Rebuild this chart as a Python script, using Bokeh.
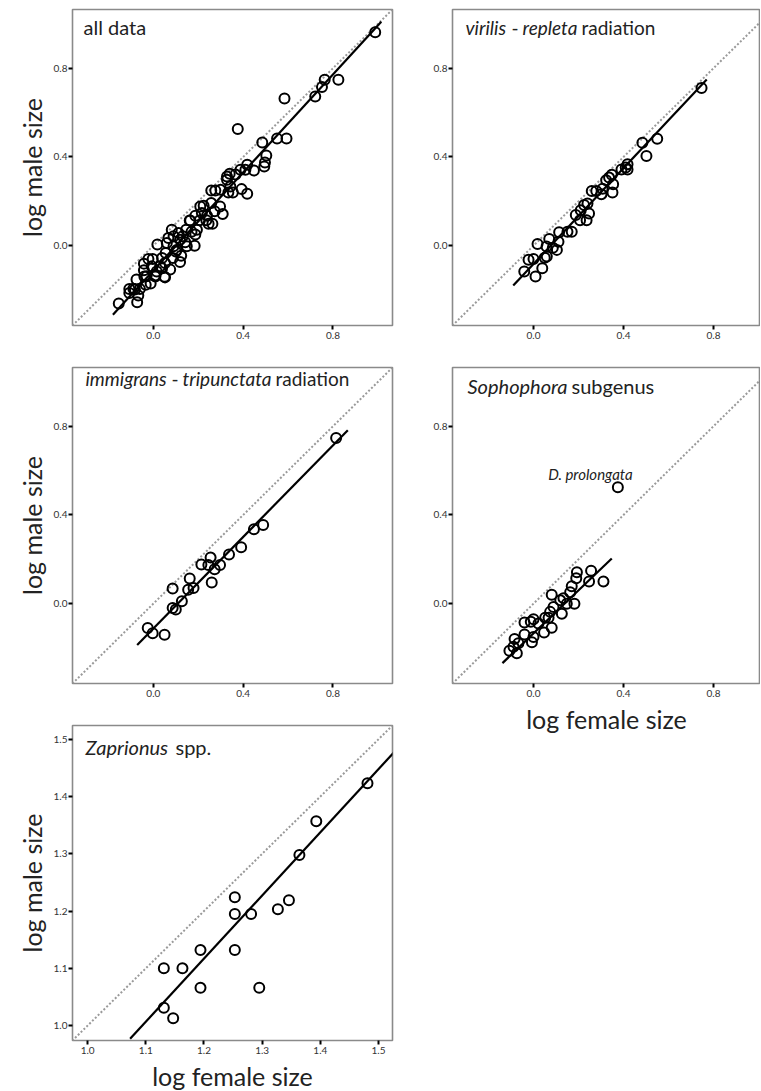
from bokeh.plotting import figure
from bokeh.layouts import row, column
from bokeh.models import Range1d, FixedTicker, NumeralTickFormatter, Label
from bokeh.embed import file_html
from bokeh.resources import INLINE

FONT = "Lato"

# ---------------- data ----------------
all_x = [-0.154, -0.107, -0.107, -0.082, -0.075, -0.072, -0.067, -0.060, -0.042, -0.042,
         -0.034, -0.030, -0.022, -0.012, -0.007, -0.003, 0.007, 0.015, 0.018, 0.030,
         0.039, 0.052, 0.052, 0.055, 0.060, 0.067, 0.075, 0.082, 0.087, 0.090,
         0.090, 0.112, 0.119, 0.119, 0.124, 0.131, 0.142, 0.146, 0.149, 0.164,
         0.184, 0.187, 0.187, 0.194, 0.209, 0.216, 0.224, 0.239, 0.246, 0.258,
         0.258, 0.263, 0.276, 0.297, 0.299, 0.309, 0.328, 0.328, 0.334, 0.340,
         0.343, 0.354, 0.366, 0.376, 0.388, 0.393, 0.410, 0.418, 0.418, 0.448,
         0.485, 0.494, 0.497, 0.503, 0.551, 0.584, 0.593, 0.721, 0.751, 0.763,
         0.824, 0.988, 0.207, 0.236, 0.170, 0.104, 0.039, 0.009, 0.100, 0.050,
         -0.089, -0.040, 0.162, 0.273]
all_y = [-0.261, -0.195, -0.213, -0.198, -0.153, -0.255, -0.225, -0.195, -0.081, -0.111,
         -0.176, -0.138, -0.060, -0.171, -0.093, -0.060, -0.135, -0.116, 0.005, -0.093,
         -0.056, -0.078, -0.143, -0.033, 0.012, 0.035, -0.108, 0.072, -0.056, 0.042,
         -0.003, 0.057, 0.027, -0.074, -0.045, 0.042, 0.015, 0.072, -0.003, 0.113,
         0.000, 0.050, 0.135, 0.072, 0.177, 0.147, 0.180, 0.135, 0.099, 0.192,
         0.249, 0.099, 0.249, 0.177, 0.252, 0.143, 0.297, 0.312, 0.240, 0.324,
         0.267, 0.240, 0.321, 0.526, 0.342, 0.255, 0.342, 0.365, 0.234, 0.339,
         0.465, 0.357, 0.375, 0.407, 0.483, 0.664, 0.483, 0.673, 0.715, 0.748,
         0.748, 0.962, 0.115, 0.115, 0.063, -0.019, -0.102, -0.139, -0.026, -0.140,
         -0.194, -0.139, 0.113, 0.155]
all_fit_x = [-0.180, 1.015]
all_fit_y = [-0.311, 1.010]

vir_x = [0.747, 0.550, 0.484, 0.502, 0.418, 0.410, 0.391, 0.418, 0.348, 0.336,
         0.323, 0.354, 0.351, 0.302, 0.307, 0.259, 0.279, 0.225, 0.240, 0.210,
         0.247, 0.236, 0.207, 0.188, 0.170, 0.151, 0.114, 0.111, 0.104, 0.070,
         0.058, 0.086, 0.050, 0.059, 0.039, 0.018, 0.000, -0.022, 0.009, -0.041]
vir_y = [0.711, 0.482, 0.464, 0.404, 0.367, 0.352, 0.343, 0.343, 0.320, 0.307,
         0.295, 0.277, 0.240, 0.232, 0.257, 0.247, 0.247, 0.183, 0.190, 0.160,
         0.145, 0.115, 0.115, 0.138, 0.063, 0.063, 0.060, 0.018, -0.019, 0.030,
         -0.004, -0.009, -0.054, -0.049, -0.102, 0.007, -0.060, -0.064, -0.139, -0.117]
vir_fit_x = [-0.090, 0.770]
vir_fit_y = [-0.180, 0.749]

imm_x = [0.814, 0.489, 0.448, 0.391, 0.337, 0.297, 0.273, 0.255, 0.245, 0.260,
         0.214, 0.179, 0.162, 0.155, 0.127, 0.100, 0.086, 0.086, 0.050, -0.003, -0.025]
imm_y = [0.747, 0.355, 0.336, 0.254, 0.222, 0.174, 0.155, 0.208, 0.174, 0.095,
         0.177, 0.071, 0.113, 0.063, 0.011, -0.026, -0.020, 0.068, -0.140, -0.133, -0.110]
imm_fit_x = [-0.072, 0.866]
imm_fit_y = [-0.186, 0.782]

soph_x = [0.375, 0.311, 0.256, 0.247, 0.193, 0.190, 0.182, 0.170, 0.163, 0.148,
          0.126, 0.133, 0.119, 0.089, 0.081, 0.074, 0.081, 0.067, 0.052, 0.047,
          0.022, 0.000, -0.012, -0.007, 0.000, -0.040, -0.040, -0.067, -0.084, -0.089,
          -0.107, -0.074]
soph_y = [0.525, 0.100, 0.149, 0.100, 0.142, 0.115, 0.000, 0.079, 0.052, 0.000,
          -0.045, 0.025, 0.015, -0.015, 0.040, -0.037, -0.109, -0.064, -0.064, -0.130,
          -0.089, -0.070, -0.082, -0.174, -0.150, -0.085, -0.139, -0.179, -0.159, -0.194,
          -0.212, -0.224]
soph_fit_x = [-0.138, 0.348]
soph_fit_y = [-0.268, 0.204]
outlier_name = "D. prolongata"
outlier_label_xy = (0.253, 0.585)

zap_x = [1.481, 1.393, 1.364, 1.346, 1.327, 1.295, 1.281, 1.253, 1.253, 1.253,
         1.194, 1.194, 1.163, 1.131, 1.131, 1.147]
zap_y = [1.423, 1.357, 1.298, 1.219, 1.203, 1.066, 1.195, 1.224, 1.195, 1.132,
         1.132, 1.066, 1.100, 1.100, 1.031, 1.013]
zap_fit_x = [1.073, 1.530]
zap_fit_y = [0.977, 1.481]

unit_line = [-0.5, 1.2]        # y = x reference line
zap_unit_line = [0.9, 1.6]
ticks_main = [0.0, 0.4, 0.8]
ticks_zap = [1.0, 1.1, 1.2, 1.3, 1.4, 1.5]
main_range = (-0.36, 1.065)
main_range_right = (-0.36, 1.009)
zap_range = (0.974, 1.524)

XLABEL = "log female size"
YLABEL = "log male size"


def panel(xs, ys, fx, fy, diag, xr, yr, ticks, fw, fh, borders,
          title_parts, title_dy, title_size, xlabel=None, ylabel=None):
    p = figure(frame_width=fw, frame_height=fh,
               x_range=Range1d(*xr), y_range=Range1d(*yr),
               min_border_left=borders[0], min_border_right=borders[1],
               min_border_top=borders[2], min_border_bottom=borders[3],
               output_backend="svg", toolbar_location=None, title=None)
    p.grid.visible = False
    p.background_fill_color = "white"
    p.border_fill_color = "white"
    p.outline_line_color = "#8a8a8a"
    p.outline_line_width = 1.6

    p.line(diag, diag, line_color="#9a9a9a", line_width=2, line_dash="2 2")
    p.line(fx, fy, line_color="black", line_width=2.2)
    p.scatter(xs, ys, marker="circle", size=10, fill_color=None,
              line_color="black", line_width=2)

    for ax in (p.xaxis[0], p.yaxis[0]):
        ax.ticker = FixedTicker(ticks=ticks)
        ax.formatter = NumeralTickFormatter(format="0.0")
        ax.axis_line_color = None
        ax.major_tick_line_color = "black"
        ax.major_tick_line_width = 2
        ax.major_tick_out = 4
        ax.major_tick_in = 0
        ax.minor_tick_line_color = None
        ax.major_label_text_font = FONT
        ax.major_label_text_font_size = "10px"
        ax.major_label_text_color = "#333333"
        ax.axis_label_text_font = FONT
        ax.axis_label_text_font_size = "25px"
        ax.axis_label_text_font_style = "normal"
        ax.axis_label_text_color = "#222222"
    p.xaxis[0].major_label_standoff = 2
    p.yaxis[0].major_label_standoff = 1
    if xlabel:
        p.xaxis[0].axis_label = xlabel
        p.xaxis[0].axis_label_standoff = 4
    if ylabel:
        p.yaxis[0].axis_label = ylabel
        p.yaxis[0].axis_label_standoff = 4

    sx = (xr[1] - xr[0]) / fw
    sy = (yr[1] - yr[0]) / fh
    for text, style, dx in title_parts:
        p.add_layout(Label(x=xr[0] + dx * sx, y=yr[1] - title_dy * sy,
                           text=text, text_font=FONT, text_font_size=title_size,
                           text_font_style=style, text_color="#222222",
                           text_baseline="middle", text_align="left"))
    return p


p1 = panel(all_x, all_y, all_fit_x, all_fit_y, unit_line, main_range, main_range,
           ticks_main, 320, 316, (72, 10, 9, 30),
           [("all data", "normal", 11)], 17, "20px", ylabel=YLABEL)
p2 = panel(vir_x, vir_y, vir_fit_x, vir_fit_y, unit_line, main_range_right, main_range,
           ticks_main, 308, 316, (50, 0, 9, 30),
           [("virilis", "italic", 13), ("-", "normal", 59),
            ("repleta", "italic", 70), ("radiation", "normal", 129)], 18, "19px")
p3 = panel(imm_x, imm_y, imm_fit_x, imm_fit_y, unit_line, main_range, main_range,
           ticks_main, 320, 316, (72, 10, 12, 30),
           [("immigrans", "italic", 13), ("-", "normal", 99),
            ("tripunctata", "italic", 110), ("radiation", "normal", 203)], 11, "19px",
           ylabel=YLABEL)
p4 = panel(soph_x, soph_y, soph_fit_x, soph_fit_y, unit_line, main_range_right, main_range,
           ticks_main, 308, 316, (50, 0, 12, 30),
           [("Sophophora", "italic", 15), ("subgenus", "normal", 119)], 18, "20px",
           xlabel=XLABEL)
p4.add_layout(Label(x=outlier_label_xy[0], y=outlier_label_xy[1], text=outlier_name,
                    text_font=FONT, text_font_size="15px", text_font_style="italic",
                    text_color="#222222", text_align="center", text_baseline="middle"))
p5 = panel(zap_x, zap_y, zap_fit_x, zap_fit_y, zap_unit_line, zap_range, zap_range,
           ticks_zap, 320, 315, (72, 10, 12, 0),
           [("Zaprionus", "italic", 13), ("spp.", "normal", 103)], 21, "20px",
           xlabel=XLABEL, ylabel=YLABEL)

layout = column(row(p1, p2), row(column(p3, p5), p4))

with open("out.html", "w") as f:
    f.write(file_html(layout, INLINE))
